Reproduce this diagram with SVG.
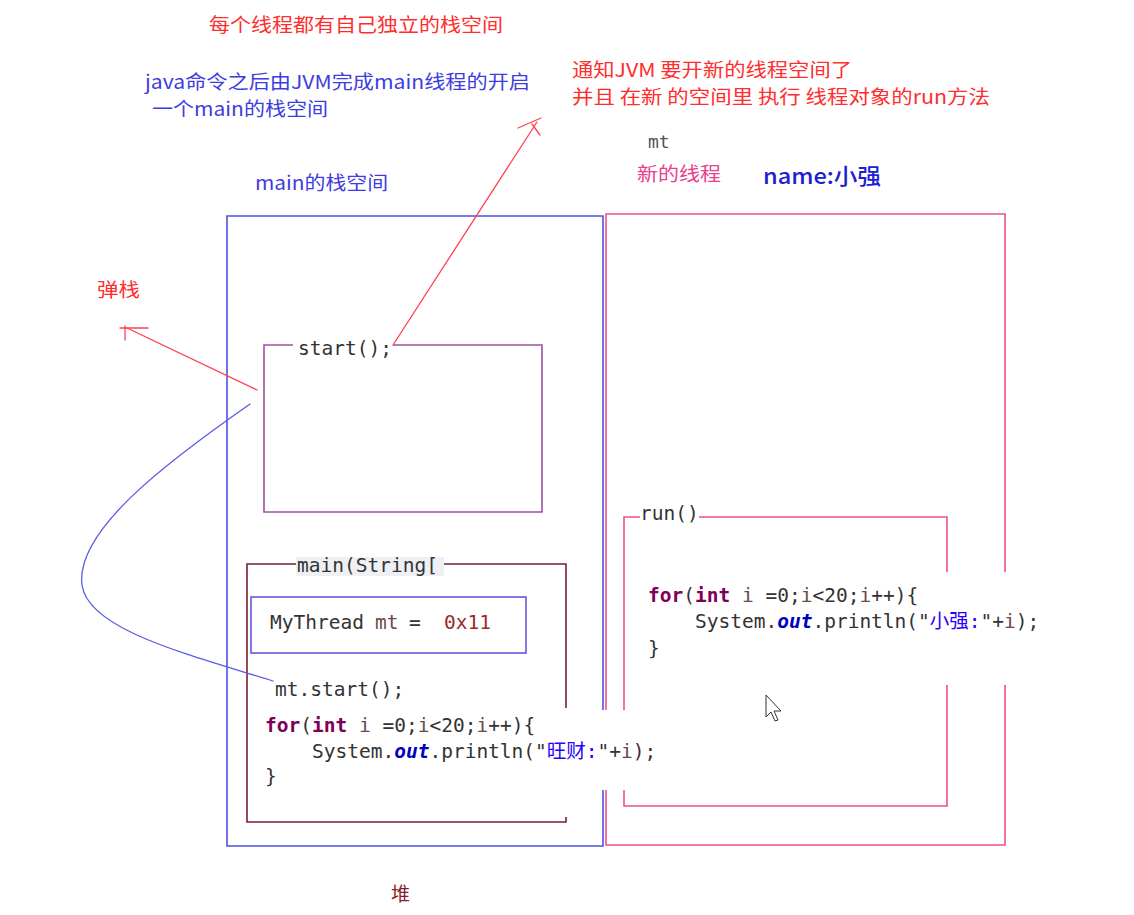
<svg xmlns="http://www.w3.org/2000/svg" width="1134" height="915" viewBox="0 0 1134 915">
<style>
.cn{font-family:"Noto Sans CJK SC","Liberation Sans",sans-serif;font-size:19px}
.red{fill:#ff2e2e}
.blue{fill:#3d3de0}
.pink{fill:#e8408f}
.code{font-family:"DejaVu Sans Mono","Noto Sans CJK SC",monospace;font-size:19.5px;fill:#333}
.kw{fill:#7f0055;font-weight:bold}
.var{fill:#6a4a4a}
.fld{fill:#0000c0;font-weight:bold;font-style:italic}
.str{fill:#2a00ff}
.frame{fill:none;stroke-width:1.6}
</style>
<rect width="1134" height="915" fill="#ffffff"/>

<g id="titles">
<text class="cn red" x="209" y="32" textLength="294" lengthAdjust="spacingAndGlyphs">每个线程都有自己独立的栈空间</text>
<text class="cn blue" x="145" y="89" textLength="385" lengthAdjust="spacingAndGlyphs">java命令之后由JVM完成main线程的开启</text>
<text class="cn blue" x="152" y="116" textLength="176" lengthAdjust="spacingAndGlyphs">一个main的栈空间</text>
<text class="cn red" x="572" y="77" textLength="280" lengthAdjust="spacingAndGlyphs">通知JVM 要开新的线程空间了</text>
<text class="cn red" x="572" y="104" textLength="418" lengthAdjust="spacingAndGlyphs">并且 在新 的空间里 执行 线程对象的run方法</text>
<text class="cn red" x="97" y="297" textLength="43" lengthAdjust="spacingAndGlyphs">弹栈</text>
<text class="cn" x="391" y="901" fill="#8b1a2a">堆</text>
</g>

<g id="main-stack">
<path class="frame" stroke="#5050e0" d="M603,710 V216 H227 V846 H603 V790"/>
<text class="cn blue" x="255" y="190" textLength="133" lengthAdjust="spacingAndGlyphs">main的栈空间</text>
</g>

<g id="new-thread">
<path class="frame" stroke="#ee4f8f" d="M606,710 V214 H1005 V572 M1005,685 V845 H606 V790"/>
<text x="648" y="148" font-family="DejaVu Sans Mono,monospace" font-size="18" fill="#555">mt</text>
<text class="cn pink" x="637" y="181" textLength="84" lengthAdjust="spacingAndGlyphs">新的线程</text>
<text x="763" y="184" font-family="Noto Sans CJK SC,Liberation Sans,sans-serif" font-size="22" font-weight="500" fill="#2020d0" textLength="118" lengthAdjust="spacingAndGlyphs">name:小强</text>
</g>

<g id="start-frame">
<path class="frame" stroke="#a050a0" d="M293,345 H264 V512 H542 V345 H393"/>
<text class="code" x="298" y="355">start();</text>
</g>

<g id="main-frame">
<path class="frame" stroke="#7a1f2f" d="M297,564 H247 V822 H566 V817 M443,564 H566 V708"/>
<rect x="296" y="557" width="148" height="19" fill="#eef0f4"/>
<text class="code" x="297" y="572">main(String[</text>
</g>

<g id="mythread-var">
<rect x="251" y="597" width="275" height="56" fill="none" stroke="#6655dd" stroke-width="1.6"/>
<text class="code" y="629"><tspan x="270">MyThread</tspan><tspan x="375" class="var">mt</tspan><tspan x="409">=</tspan><tspan x="444" fill="#9a2a2a">0x11</tspan></text>
</g>

<g id="main-code">
<text class="code" x="275" y="696">mt.start();</text>
<text class="code" x="265" y="732"><tspan class="kw">for</tspan>(<tspan class="kw">int</tspan> <tspan class="var">i</tspan> =0;<tspan class="var">i</tspan>&lt;20;<tspan class="var">i</tspan>++){</text>
<text class="code" x="312" y="758">System.<tspan class="fld">out</tspan>.println(&quot;<tspan class="str">旺财:</tspan>&quot;+<tspan class="var">i</tspan>);</text>
<text class="code" x="265" y="783">}</text>
</g>

<g id="run-frame">
<path class="frame" stroke="#ee4f8f" d="M640,517 H624 V710 M624,790 V806 H947 V685 M947,572 V517 H699"/>
<text class="code" x="640" y="520">run()</text>
<text class="code" x="648" y="602"><tspan class="kw">for</tspan>(<tspan class="kw">int</tspan> <tspan class="var">i</tspan> =0;<tspan class="var">i</tspan>&lt;20;<tspan class="var">i</tspan>++){</text>
<text class="code" x="695" y="628">System.<tspan class="fld">out</tspan>.println(&quot;<tspan class="str">小强:</tspan>&quot;+<tspan class="var">i</tspan>);</text>
<text class="code" x="648" y="655">}</text>
</g>

<g id="connectors" fill="none" stroke-linecap="round">
<path d="M393,345 L537,122" stroke="#ff4050" stroke-width="1.3"/>
<path d="M518,128 L541,118 M532,124 L540,135" stroke="#ff4050" stroke-width="1.3"/>
<path d="M257,390 L127,328" stroke="#ff4050" stroke-width="1.3"/>
<path d="M120,328 H148 M125,326 V340" stroke="#ff4050" stroke-width="1.3"/>
<path d="M250,404 C170,460 75,530 82,585 C88,630 190,655 273,681" stroke="#5a5ae6" stroke-width="1.3"/>
</g>

<g id="cursor">
<path d="M766,695 L766,717 L771,712 L775,721 L778,720 L774,711 L781,711 Z" fill="#ffffff" stroke="#333" stroke-width="1"/>
</g>
</svg>
